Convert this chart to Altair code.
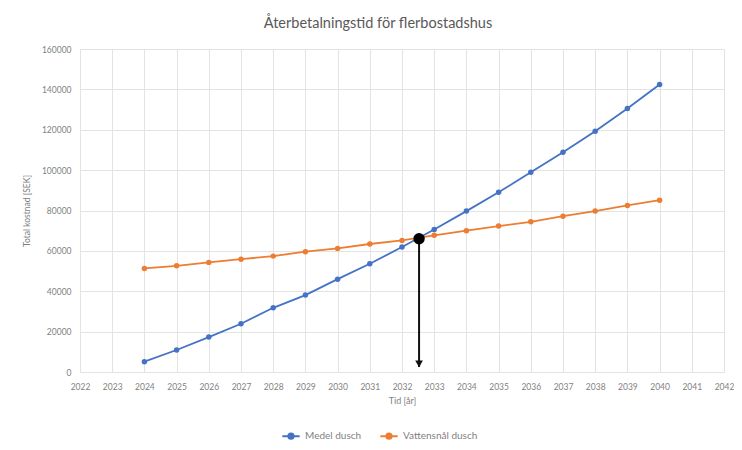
import altair as alt
import pandas as pd

years = list(range(2024, 2041))
medel = [5100, 10900, 17300, 23900, 31800, 38100, 46000, 53600, 61900, 70600,
         79700, 89000, 98900, 108800, 119300, 130500, 142400]
vatten = [51300, 52600, 54300, 55900, 57400, 59600, 61200, 63400, 65200, 67700,
          70000, 72300, 74400, 77200, 79700, 82500, 85100]
series_names = ["Medel dusch", "Vattensnål dusch"]
colors = ["#4472C4", "#ED7D31"]
x_ticks = list(range(2022, 2043))
y_ticks = list(range(0, 160001, 20000))

cross_year = [2032.53]
cross_value = [66000]
arrow_end = [2500]

rows = []
for y, a, b in zip(years, medel, vatten):
    rows.append({"year": y, "value": a, "serie": series_names[0]})
    rows.append({"year": y, "value": b, "serie": series_names[1]})
df = pd.DataFrame(rows)

cross_df = pd.DataFrame({"year": cross_year, "value": cross_value, "end": arrow_end})

FONT = "Lato"
LABEL = "#7f7f7f"

xscale = alt.Scale(domain=[2022, 2042], nice=False, zero=False)
yscale = alt.Scale(domain=[0, 160000], nice=False)

xaxis = alt.Axis(title="Tid [år]", values=x_ticks, format="d", tickCount=21,
                 grid=True, gridColor="#e3e3e3", domain=False, ticks=False,
                 labelFontSize=8.5, labelColor=LABEL, labelPadding=10,
                 labelOverlap=False, labelFont=FONT, titleFont=FONT,
                 titleFontSize=9, titleColor=LABEL, titleFontWeight="normal",
                 titlePadding=6, labelFlush=False)
yaxis = alt.Axis(title="Total kostnad [SEK]", values=y_ticks,
                 format="d", grid=True, gridColor="#e3e3e3", domain=False, ticks=False,
                 labelFontSize=8.5, labelColor=LABEL, labelPadding=9,
                 labelFont=FONT, titleFont=FONT,
                 titleFontSize=8.5, titleColor=LABEL, titleFontWeight="normal",
                 titlePadding=10)

X = alt.X("year:Q", scale=xscale, axis=xaxis)
Y = alt.Y("value:Q", scale=yscale, axis=yaxis)

color = alt.Color("serie:N", scale=alt.Scale(domain=series_names, range=colors),
                  legend=alt.Legend(title=None, orient="none", legendX=201, legendY=377,
                                    direction="horizontal",
                                    symbolType="M-1,0H1M-0.3,0A0.3,0.3,0,1,1,0.3,0A0.3,0.3,0,1,1,-0.3,0Z",
                                    symbolSize=300, symbolStrokeWidth=2,
                                    labelFontSize=10, labelColor=LABEL, labelFont=FONT,
                                    columnPadding=14))

base = alt.Chart(df)
lines = base.mark_line(strokeWidth=1.8).encode(x=X, y=Y, color=color)
points = base.mark_point(filled=True, size=30, opacity=1).encode(x=X, y=Y, color=color)

cbase = alt.Chart(cross_df)
rule = cbase.mark_rule(color="#111111", strokeWidth=2).encode(x=X, y=Y, y2="end:Q")
head = cbase.mark_point(shape="triangle-down", filled=True, color="#111111",
                        size=60, opacity=1, yOffset=-3).encode(
    x=X, y=alt.Y("end:Q", scale=yscale, axis=yaxis))
dot = cbase.mark_point(filled=True, color="#000000", size=130, opacity=1).encode(x=X, y=Y)

chart = alt.layer(lines, points, rule, head, dot).properties(
    width=644, height=323,
    autosize=alt.AutoSizeParams(type="none"),
    padding={"left": 72, "top": 41, "right": 10, "bottom": 70},
    title=alt.TitleParams("Återbetalningstid för flerbostadshus", fontSize=14.5,
                          font=FONT, fontWeight="normal", color="#595959",
                          anchor="middle", dx=-24, offset=14),
).configure_view(stroke=None)

chart.save("out.html", embed_options={"renderer": "svg", "actions": False})
